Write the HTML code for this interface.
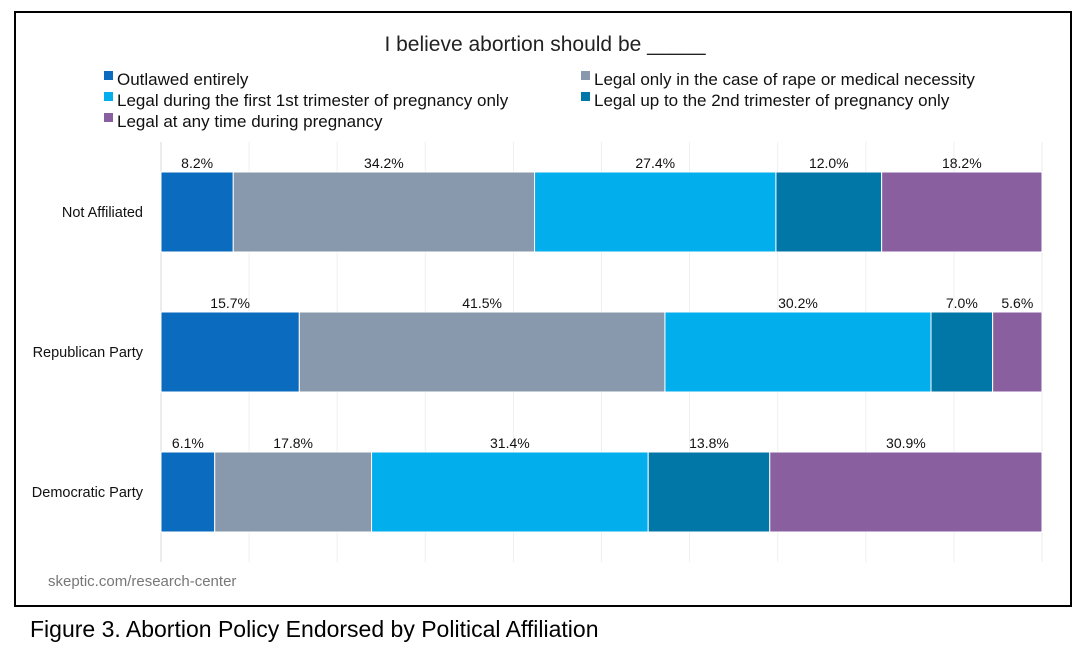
<!DOCTYPE html>
<html><head><meta charset="utf-8"><style>
body{margin:0;background:#fff;width:1084px;height:652px;overflow:hidden;font-family:"Liberation Sans",sans-serif}
</style></head><body>
<svg width="1084" height="652" id="svg">
<rect x="15" y="12" width="1056" height="594" fill="#fff" stroke="#000" stroke-width="2"/>
<text x="545" y="51" font-size="21" text-anchor="middle" fill="#222">I believe abortion should be _____</text>
<g id="legend"></g>
<g id="grid"></g>
<g id="bars"></g>
<text x="48" y="586" font-size="15" fill="#777">skeptic.com/research-center</text>
<text x="30" y="637" font-size="23" fill="#000">Figure 3. Abortion Policy Endorsed by Political Affiliation</text>
</svg>
<script>
const categories=["Not Affiliated","Republican Party","Democratic Party"];
const seriesNames=["Outlawed entirely","Legal only in the case of rape or medical necessity","Legal during the first 1st trimester of pregnancy only","Legal up to the 2nd trimester of pregnancy only","Legal at any time during pregnancy"];
const outlawed=[8.2,15.7,6.1];
const rapeMedical=[34.2,41.5,17.8];
const firstTri=[27.4,30.2,31.4];
const secondTri=[12.0,7.0,13.8];
const anyTime=[18.2,5.6,30.9];
const series=[outlawed,rapeMedical,firstTri,secondTri,anyTime];
const colors=["#0a6bbf","#8899ad","#03aeec","#0077a6","#8a5fa0"];
const NS="http://www.w3.org/2000/svg";
const x0=161,x1=1042;
const xs=v=>x0+(x1-x0)*v/100;
const rowY=i=>172+i*140, bh=80;
function mk(tag,attrs,parent){const e=document.createElementNS(NS,tag);for(const k in attrs)e.setAttribute(k,attrs[k]);parent.appendChild(e);return e;}
const grid=document.getElementById('grid');
for(let k=0;k<=10;k++){const l=mk('line',{x1:xs(k*10),x2:xs(k*10),y1:142,y2:562,stroke:k==0?'#d8d8d8':'#eeeeee','stroke-width':1},grid);

}
const leg=document.getElementById('legend');
const lpos=[[104,79],[581,79],[104,100],[581,100],[104,121]];
seriesNames.forEach((n,i)=>{
const r=mk('rect',{x:lpos[i][0],y:lpos[i][1]-8,width:9,height:9,fill:colors[i]},leg);


const t=mk('text',{x:lpos[i][0]+13,y:lpos[i][1]+6,'font-size':17,fill:'#111'},leg);t.textContent=n;


});
const bars=document.getElementById('bars');
categories.forEach((c,i)=>{
const y=rowY(i);let acc=0;
const lab=mk('text',{x:143,y:y+bh/2+5,'font-size':14.5,'text-anchor':'end',fill:'#111'},bars);lab.textContent=c;


series.forEach((s,j)=>{
const v=s[i];
const r=mk('rect',{x:xs(acc),y:y,width:xs(acc+v)-xs(acc),height:bh,fill:colors[j],stroke:'#fff','stroke-width':1},bars);


const t=mk('text',{x:(xs(acc)+xs(acc+v))/2,y:y-4,'font-size':14,'text-anchor':'middle',fill:'#111'},bars);t.textContent=v.toFixed(1)+'%';


acc+=v;});
});
</script>
</body></html>
